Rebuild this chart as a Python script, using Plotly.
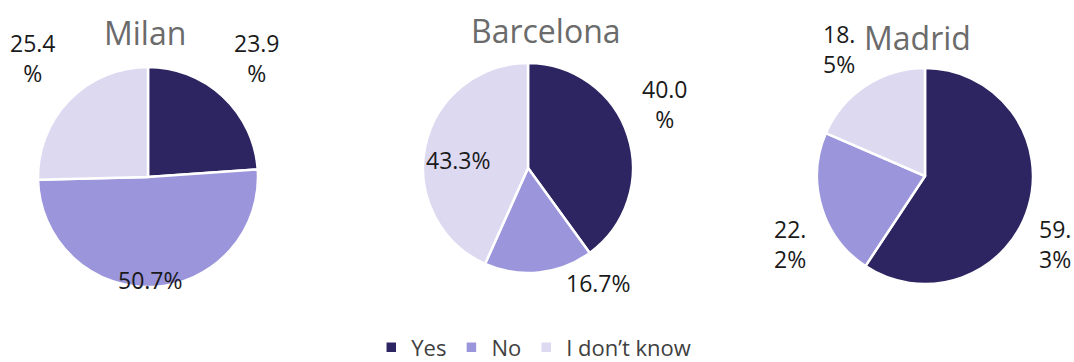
import plotly.graph_objects as go

# Data
cities = ["Milan", "Barcelona", "Madrid"]
answers = ["Yes", "No", "I don\u2019t know"]
milan = [23.9, 50.7, 25.4]
barcelona = [40.0, 16.7, 43.3]
madrid = [59.3, 22.2, 18.5]

colors = ["#2d2562", "#9b95db", "#dcd9f1"]

# pie domains (paper px) and label spots, layout only
W, H = 1074, 362
boxes = [(38, 258, 67, 287), (423, 633, 63, 273), (817, 1033, 68, 284)]
label_pos = [
    [(257, 58), (150, 280), (33, 58)],
    [(665, 104), (598, 283), (458, 160)],
    [(1055, 244), (790, 244), (839, 49)],
]
title_pos = [(145, 32), (546, 30), (917, 38)]
# how Excel wrapped each label
wraps = [
    [True, False, True],
    [True, False, False],
    [True, True, True],
]


def paper_note(text, px, py, size, color):
    return dict(
        text=text,
        x=px / W,
        y=1 - py / H,
        xref="paper",
        yref="paper",
        xanchor="center",
        yanchor="middle",
        showarrow=False,
        font=dict(size=size, color=color),
    )


fig = go.Figure()
annotations = []
for i, (city, vals) in enumerate(zip(cities, [milan, barcelona, madrid])):
    x0, x1, y0, y1 = boxes[i]
    fig.add_trace(
        go.Pie(
            labels=answers,
            values=vals,
            sort=False,
            direction="clockwise",
            rotation=0,
            textinfo="none",
            marker=dict(colors=colors, line=dict(color="white", width=2.5)),
            domain=dict(x=[x0 / W, x1 / W], y=[1 - y1 / H, 1 - y0 / H]),
            showlegend=(i == 0),
            hoverinfo="label+value",
        )
    )
    tx, ty = title_pos[i]
    annotations.append(paper_note(city, tx, ty, 32, "#6b6b6b"))
    for j, v in enumerate(vals):
        s = f"{v:.1f}%"
        if wraps[i][j]:
            # break where Excel did
            s = s[:-1] + "<br>%" if i < 2 else s[:3] + "<br>" + s[3:]
        lx, ly = label_pos[i][j]
        annotations.append(paper_note(s, lx, ly, 23, "#1a1a1a"))

fig.update_layout(
    width=W,
    height=H,
    margin=dict(l=0, r=0, t=0, b=0, autoexpand=False),
    paper_bgcolor="white",
    font=dict(family="Open Sans, sans-serif"),
    annotations=annotations,
    legend=dict(
        orientation="h",
        x=0.497,
        xanchor="center",
        y=0.04,
        yanchor="middle",
        font=dict(size=22, color="#404040"),
        itemwidth=30,
        traceorder="normal",
    ),
)

# page has a default 8px body margin; drop it so the figure fills the window
fig.write_html(
    "out.html",
    config={"displayModeBar": False},
    post_script="document.body.style.margin='0';",
)
